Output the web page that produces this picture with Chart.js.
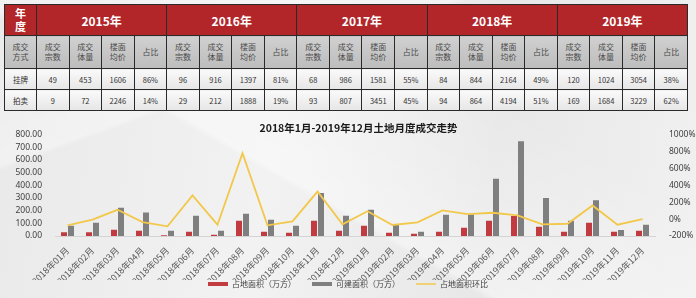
<!DOCTYPE html>
<html><head><meta charset="utf-8">
<script src="https://cdn.jsdelivr.net/npm/chart.js@4.4.1/dist/chart.umd.min.js"></script>
<style>
html,body{margin:0;padding:0;}
body{width:696px;height:298px;position:relative;overflow:hidden;
 background:
  linear-gradient(160deg, rgba(255,255,255,0.0) 0%, rgba(255,255,255,0.35) 30%, rgba(255,255,255,0) 31%),
  linear-gradient(30deg, rgba(255,255,255,0) 40%, rgba(255,255,255,0.4) 41%, rgba(255,255,255,0) 70%),
  linear-gradient(100deg,#e9e9e9 0%,#f2f2f2 40%,#e8e8e8 70%,#f1f1f1 100%);
 font-family:'Noto Sans CJK SC','Noto Sans',sans-serif;}
table{position:absolute;left:4px;top:4px;width:684px;border-collapse:collapse;table-layout:fixed;}
td{border:1px solid #2a2a2a;text-align:center;vertical-align:middle;padding:0;overflow:hidden;white-space:nowrap;}
tr.h1 td{height:30px;background:#b2262a;color:#fff;font-weight:bold;font-size:12px;}
tr.h1 td.first{font-size:11px;line-height:13px;white-space:normal;}
tr.h2 td{height:32px;background:linear-gradient(#d0d0d0,#bdbdbd);color:#4a4a4a;font-size:8px;line-height:10px;white-space:normal;}
tr.d td{height:20px;background:linear-gradient(#fafafa,#e6e6e6);color:#333;font-size:7.5px;}
#wrap{position:absolute;left:0;top:112px;width:696px;height:186px;}
</style></head>
<body>
<table id="tbl"></table>
<div id="wrap"><canvas id="c" width="696" height="186"></canvas></div>
<script>
// ---- table data ----
const years = ['2015年','2016年','2017年','2018年','2019年'];
const subHeaders = ['成交<br>宗数','成交<br>体量','楼面<br>均价','占比'];
const listingRow = ['49','453','1606','86%','96','916','1397','81%','68','986','1581','55%','84','844','2164','49%','120','1024','3054','38%'];
const auctionRow = ['9','72','2246','14%','29','212','1888','19%','93','807','3451','45%','94','864','4194','51%','169','1684','3229','62%'];

// ---- chart data ----
const categories = ['2018年01月','2018年02月','2018年03月','2018年04月','2018年05月','2018年06月','2018年07月','2018年08月','2018年09月','2018年10月','2018年11月','2018年12月',
 '2019年01月','2019年02月','2019年03月','2019年04月','2019年05月','2019年06月','2019年07月','2019年08月','2019年09月','2019年10月','2019年11月','2019年12月'];
const landArea = [29,29,50,42,6,34,10,120,34,26,120,42,81,26,18,34,65,120,157,73,34,105,34,42];
const buildArea = [81,105,222,186,42,160,42,175,128,81,340,160,207,94,34,167,170,452,748,300,120,282,47,89];
const landAreaMoM = [-74,-7,110,-35,-86,279,-66,780,-74,-27,326,-62,94,-70,-39,102,60,75,43,-62,-55,161,-66,0];

// build table
let html = '<colgroup><col style="width:32px">' + '<col>'.repeat(20) + '</colgroup>';
html += '<tr class="h1"><td class="first">年<br>度</td>' + years.map(y=>'<td colspan="4">'+y+'</td>').join('') + '</tr>';
html += '<tr class="h2"><td>成交<br>方式</td>' + years.map(()=>subHeaders.map(s=>'<td>'+s+'</td>').join('')).join('') + '</tr>';
html += '<tr class="d"><td>挂牌</td>' + listingRow.map(v=>'<td>'+v+'</td>').join('') + '</tr>';
html += '<tr class="d"><td>拍卖</td>' + auctionRow.map(v=>'<td>'+v+'</td>').join('') + '</tr>';
document.getElementById('tbl').innerHTML = html;

const FONT = "'Noto Sans','Noto Sans CJK SC',sans-serif";
const CJK = "'Noto Sans CJK SC',sans-serif";
Chart.defaults.font.family = FONT;
const LINE_COLOR = '#f2c84b';

new Chart(document.getElementById('c'), {
  type: 'bar',
  data: {
    labels: categories,
    datasets: [
      {label:'占地面积（万方）', data:landArea, backgroundColor:'#c23b40', yAxisID:'y', categoryPercentage:0.56, barPercentage:0.857, order:2},
      {label:'可建面积（万方）', data:buildArea, backgroundColor:'#7f7f7f', yAxisID:'y', categoryPercentage:0.56, barPercentage:0.857, order:2},
      {type:'line', label:'占地面积环比', data:landAreaMoM, borderColor:LINE_COLOR, backgroundColor:LINE_COLOR, borderWidth:1.8, pointRadius:0, tension:0, yAxisID:'y1', order:0}
    ]
  },
  options: {
    responsive:false, animation:false,
    layout:{padding:0},
    plugins:{
      title:{display:true, text:'\u2002\u2002\u2002\u20022018年1月-2019年12月土地月度成交走势', color:'#1a1a1a',
        font:{size:10.5, weight:'bold', lineHeight:1.2, family:CJK}, padding:{top:10,bottom:0}},
      legend:{position:'bottom',
        labels:{usePointStyle:true, pointStyleWidth:20, boxHeight:4, padding:0, color:'#404040',
          font:{size:8, family:CJK},
          sort:(a,b)=>a.datasetIndex-b.datasetIndex,
          generateLabels(chart){
            const items = Chart.defaults.plugins.legend.labels.generateLabels(chart);
            items.forEach(it=>{
              if(it.datasetIndex===2){ it.pointStyle='line'; it.lineWidth=1.5; it.strokeStyle=LINE_COLOR; }
              else { it.pointStyle='rect'; it.lineWidth=0; it.text = it.text + '\u2003\u2003'; }
            });
            return items;
          }}},
      tooltip:{enabled:false}
    },
    scales:{
      x:{grid:{display:false}, border:{color:'#d4d4d4'},
        ticks:{minRotation:45, maxRotation:45, autoSkip:false, color:'#595959', padding:1, font:{size:9, family:CJK}},
        afterFit(s){ s.height = 44; }},
      y:{position:'left', min:0, max:800, grid:{display:false}, border:{display:false},
        ticks:{count:9, autoSkip:false, autoSkipPadding:0, color:'#404040', padding:5, font:{size:8.5, lineHeight:1}, callback:v=>Number(v).toFixed(2)},
        afterFit(s){ s.width = 55; }},
      y1:{position:'right', min:-200, max:1000, grid:{display:false}, border:{display:false},
        ticks:{count:7, autoSkip:false, autoSkipPadding:0, color:'#404040', padding:6, font:{size:8.5, lineHeight:1}, callback:v=>Math.round(v)+'%'},
        afterFit(s){ s.width = 41; }}
    }
  }
});
</script>
</body></html>
